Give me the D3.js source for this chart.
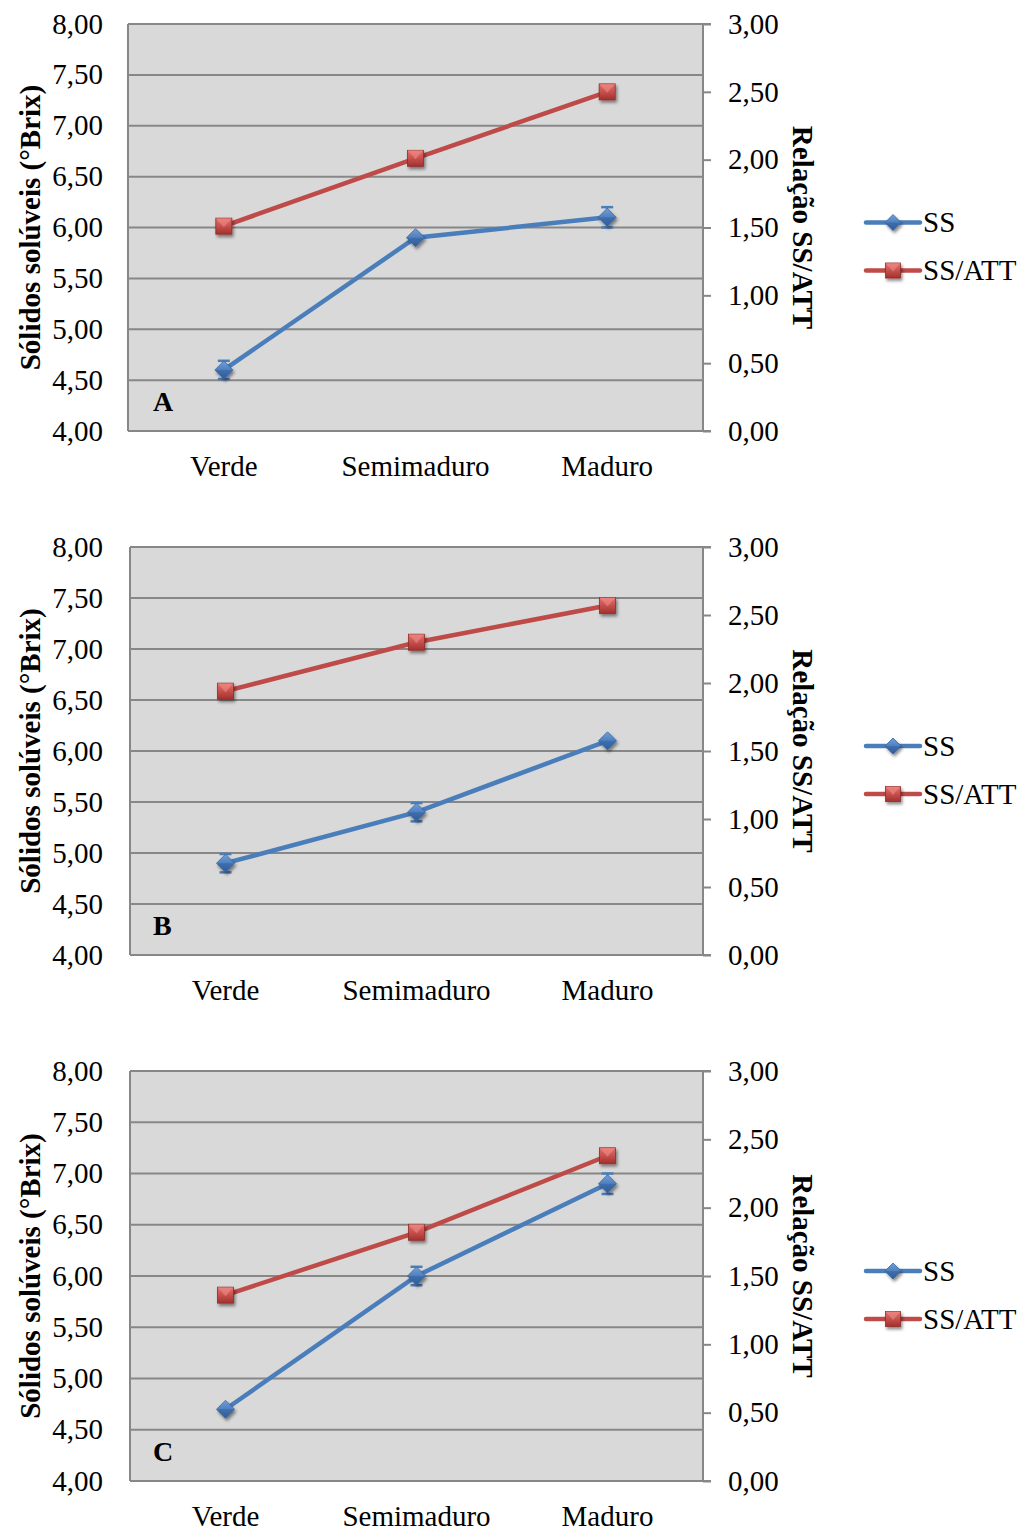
<!DOCTYPE html>
<html>
<head>
<meta charset="utf-8">
<title>SS e SS/ATT</title>
<script src="https://d3js.org/d3.v7.min.js"></script>
<style>
body{margin:0;background:#fff;}
svg text{font-family:"Liberation Serif","Times New Roman",serif;fill:#000;}
</style>
</head>
<body>
<svg width="1031" height="1529" id="mainsvg"></svg>
<script>
// dados
const categories=['Verde','Semimaduro','Maduro'];
const panelLabels=['A','B','C'];
const ssValues=[[4.60,5.90,6.10],[4.90,5.40,6.10],[4.70,6.00,6.90]];
const ssErrors=[[0.09,0.02,0.10],[0.09,0.09,0.02],[0.02,0.09,0.10]];
const ratioValues=[[1.51,2.01,2.50],[1.94,2.30,2.57],[1.36,1.82,2.38]];
const leftTicks=[4,4.5,5,5.5,6,6.5,7,7.5,8];
const rightTicks=[0,0.5,1,1.5,2,2.5,3];
const seriesNames=['SS','SS/ATT'];

// layout de cada painel
const panels=[
  {top:24,bottom:431,left:128,right:703},
  {top:547,bottom:955,left:130,right:703},
  {top:1071,bottom:1481,left:130,right:703}
];
const blue='#4a7ebb', red='#be4b48';
const fs='29px';
const fmt=d=>d3.format('.2f')(d).replace('.',',');

const svg=d3.select('#mainsvg');
const defs=svg.append('defs');
const sh=defs.append('filter').attr('id','shadow').attr('x','-50%').attr('y','-50%').attr('width','200%').attr('height','200%');
sh.append('feDropShadow').attr('dx',1.5).attr('dy',2.5).attr('stdDeviation',1.8).attr('flood-color','#000').attr('flood-opacity',0.45);
function grad(id,c1,c2){
  const g=defs.append('linearGradient').attr('id',id).attr('x1',0).attr('y1',0).attr('x2',0).attr('y2',1);
  g.append('stop').attr('offset','0%').attr('stop-color',c1);
  g.append('stop').attr('offset','100%').attr('stop-color',c2);
}
grad('gblue','#6fa0dc','#2f5f9e');
grad('gred','#e8706c','#a3302d');

function diamond(sel,x,y,s){
  const gg=sel.append('g').attr('transform',`translate(${x},${y})`).attr('filter','url(#shadow)');
  gg.append('path').attr('d',`M0,${-s}L${s},0L0,${s}L${-s},0Z`).attr('fill','url(#gblue)').attr('stroke','#3a6aa5').attr('stroke-width',0.8);
  gg.append('path').attr('d',`M${-s},0L${s},0L0,${s}Z`).attr('fill','#2e5c98').attr('opacity',0.45);
}
function square(sel,x,y,s){
  const gg=sel.append('g').attr('transform',`translate(${x},${y})`).attr('filter','url(#shadow)');
  gg.append('rect').attr('x',-s).attr('y',-s).attr('width',2*s).attr('height',2*s).attr('fill','url(#gred)').attr('stroke','#8e2c2a').attr('stroke-width',0.8);
  gg.append('path').attr('d',`M${-s},${-s}L${s},${-s}L0,1Z`).attr('fill','#f0908c').attr('opacity',0.55);
}

panels.forEach((p,i)=>{
  const g=svg.append('g');
  const x=d3.scaleBand().domain(categories).range([p.left,p.right]);
  const yL=d3.scaleLinear().domain([4,8]).range([p.bottom,p.top]);
  const yR=d3.scaleLinear().domain([0,3]).range([p.bottom,p.top]);
  const cx=d=>x(d)+x.bandwidth()/2;

  g.append('rect').attr('x',p.left).attr('y',p.top).attr('width',p.right-p.left).attr('height',p.bottom-p.top).attr('fill','#d9d9d9');
  g.selectAll('.grid').data(leftTicks).enter().append('line')
    .attr('x1',p.left).attr('x2',p.right).attr('y1',d=>yL(d)).attr('y2',d=>yL(d))
    .attr('stroke','#878787').attr('stroke-width',2);
  g.append('line').attr('x1',p.left).attr('x2',p.left).attr('y1',p.top).attr('y2',p.bottom).attr('stroke','#878787').attr('stroke-width',2);

  // eixo esquerdo (sem marcas)
  g.selectAll('.ltxt').data(leftTicks).enter().append('text')
    .attr('x',103).attr('y',d=>yL(d)).attr('dy','0.33em').attr('text-anchor','end')
    .style('font-size',fs).text(fmt);
  // eixo direito
  const ra=d3.axisRight(yR).tickValues(rightTicks).tickSize(8).tickPadding(17).tickFormat(fmt);
  const rg=g.append('g').attr('transform',`translate(${p.right},0)`).call(ra);
  rg.select('.domain').attr('stroke','#878787').attr('stroke-width',2).attr('d',`M8,${p.top}H0V${p.bottom}H8`);
  rg.selectAll('.tick line').attr('stroke','#878787').attr('stroke-width',2);
  rg.selectAll('.tick text').style('font-size',fs).attr('font-family','"Liberation Serif","Times New Roman",serif').attr('fill','#000');

  // categorias
  g.selectAll('.cat').data(categories).enter().append('text')
    .attr('x',cx).attr('y',p.bottom+45).attr('text-anchor','middle').style('font-size',fs).text(d=>d);

  // titulos
  const mid=(p.top+p.bottom)/2;
  g.append('text').attr('transform',`translate(40,${mid}) rotate(-90)`).attr('text-anchor','middle')
    .style('font-size',fs).style('font-weight','bold').text('Sólidos solúveis (°Brix)');
  g.append('text').attr('transform',`translate(793,${mid}) rotate(90)`).attr('text-anchor','middle')
    .style('font-size',fs).style('font-weight','bold').text('Relação SS/ATT');
  g.append('text').attr('x',153).attr('y',p.bottom-20).style('font-size','28px').style('font-weight','bold').text(panelLabels[i]);

  // linhas
  const ss=categories.map((c,j)=>({c,v:ssValues[i][j],e:ssErrors[i][j]}));
  const ra2=categories.map((c,j)=>({c,v:ratioValues[i][j]}));
  g.append('path').datum(ra2).attr('fill','none').attr('stroke',red).attr('stroke-width',4.5)
    .attr('d',d3.line().x(d=>cx(d.c)).y(d=>yR(d.v)));
  g.append('path').datum(ss).attr('fill','none').attr('stroke',blue).attr('stroke-width',4.5)
    .attr('d',d3.line().x(d=>cx(d.c)).y(d=>yL(d.v)));
  // barras de erro
  ss.forEach(d=>{
    const x0=cx(d.c), y1=yL(d.v+d.e), y2=yL(d.v-d.e);
    g.append('line').attr('x1',x0).attr('x2',x0).attr('y1',y1).attr('y2',y2).attr('stroke',blue).attr('stroke-width',2);
    [y1,y2].forEach(yy=>g.append('line').attr('x1',x0-6).attr('x2',x0+6).attr('y1',yy).attr('y2',yy).attr('stroke',blue).attr('stroke-width',2.5));
  });
  ra2.forEach(d=>square(g,cx(d.c),yR(d.v),8));
  ss.forEach(d=>diamond(g,cx(d.c),yL(d.v),9));

  // legenda
  const ly=[mid-5,mid+43];
  [blue,red].forEach((c,k)=>{
    g.append('line').attr('x1',866).attr('x2',920).attr('y1',ly[k]).attr('y2',ly[k]).attr('stroke',c).attr('stroke-width',4.5).attr('stroke-linecap','round');
    if(k===0) diamond(g,893,ly[k],8); else square(g,893,ly[k],7.5);
    g.append('text').attr('x',923).attr('y',ly[k]).attr('dy','0.33em').style('font-size',fs).text(seriesNames[k]);
  });
});
</script>
</body>
</html>
